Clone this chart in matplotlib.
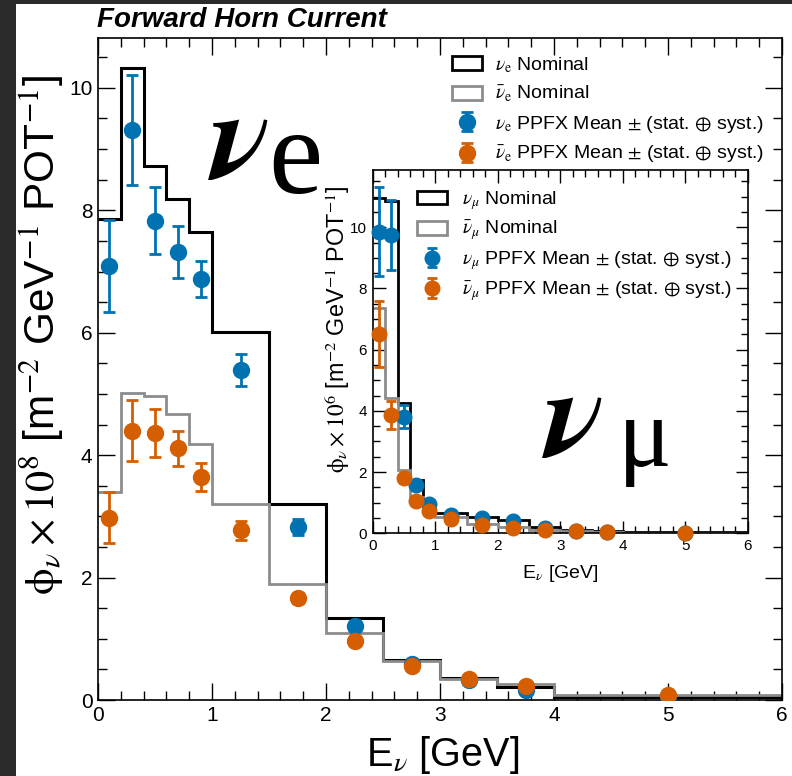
import matplotlib
matplotlib.use("Agg")
import matplotlib.pyplot as plt
from matplotlib.patches import Patch, Rectangle
from matplotlib.ticker import MultipleLocator

plt.rcParams['font.family'] = ['Liberation Sans', 'DejaVu Sans']
plt.rcParams['mathtext.fontset'] = 'stix'

# ---------------- data ----------------
edges = [0, 0.2, 0.4, 0.6, 0.8, 1.0, 1.5, 2.0, 2.5, 3.0, 3.5, 4.0, 6.0]
centers = [0.1, 0.3, 0.5, 0.7, 0.9, 1.25, 1.75, 2.25, 2.75, 3.25, 3.75, 5.0]

nue_nom = [7.86, 10.32, 8.73, 8.19, 7.65, 6.01, 3.20, 1.34, 0.65, 0.36, 0.21, 0.05]
nuebar_nom = [3.39, 5.01, 4.97, 4.68, 4.18, 3.20, 1.90, 1.10, 0.63, 0.35, 0.26, 0.08]
nue_mean = [7.09, 9.31, 7.83, 7.32, 6.88, 5.39, 2.83, 1.21, 0.58, 0.32, 0.16, 0.06]
nue_err = [0.75, 0.90, 0.55, 0.42, 0.30, 0.26, 0.13, 0.06, 0.04, 0.03, 0.02, 0.01]
nuebar_mean = [2.98, 4.40, 4.36, 4.11, 3.64, 2.77, 1.66, 0.96, 0.56, 0.34, 0.23, 0.08]
nuebar_err = [0.41, 0.50, 0.39, 0.29, 0.23, 0.15, 0.08, 0.05, 0.03, 0.02, 0.02, 0.01]

numu_nom = [10.95, 10.87, 4.27, 1.75, 1.00, 0.65, 0.54, 0.45, 0.20, 0.12, 0.07, 0.03]
numubar_nom = [7.35, 4.43, 2.07, 1.20, 0.70, 0.54, 0.30, 0.20, 0.12, 0.07, 0.05, 0.02]
numu_mean = [9.86, 9.75, 3.81, 1.58, 0.97, 0.60, 0.51, 0.40, 0.18, 0.08, 0.05, 0.02]
numu_err = [1.45, 1.15, 0.38, 0.15, 0.08, 0.05, 0.04, 0.03, 0.02, 0.01, 0.01, 0.005]
numubar_mean = [6.51, 3.87, 1.80, 1.07, 0.73, 0.47, 0.27, 0.17, 0.10, 0.07, 0.05, 0.02]
numubar_err = [1.07, 0.45, 0.15, 0.08, 0.05, 0.03, 0.02, 0.01, 0.01, 0.005, 0.005, 0.003]

BLUE = '#0072B2'
ORANGE = '#D55E00'
GRAY = '#8c8c8c'

W, H = 792, 776
fig = plt.figure(figsize=(W / 100, H / 100), dpi=100)
fig.patch.set_facecolor('#2b2b2b')
fig.patches.append(Rectangle((16 / W, 0), 1 - 16 / W, 1 - 4 / H, transform=fig.transFigure,
                             facecolor='white', edgecolor='none', zorder=-10))


def fx(px):
    return px / W


def fy(py):
    return 1 - py / H


def style_axes(ax, major_len, minor_len, labelsize):
    ax.xaxis.set_major_locator(MultipleLocator(1))
    ax.xaxis.set_minor_locator(MultipleLocator(0.2))
    ax.yaxis.set_major_locator(MultipleLocator(2))
    ax.yaxis.set_minor_locator(MultipleLocator(0.5))
    ax.tick_params(which='both', direction='in', top=True, right=True, width=1.0,
                   labelsize=labelsize, colors='black')
    ax.tick_params(which='major', length=major_len, pad=4)
    ax.tick_params(which='minor', length=minor_len)
    for s in ax.spines.values():
        s.set_linewidth(1.2)


# ---------------- main axes ----------------
ax = fig.add_axes([fx(98), fy(700), fx(782) - fx(98), fy(37.7) - fy(700)])
ax.set_xlim(0, 6)
ax.set_ylim(0, 10.82)
style_axes(ax, 12, 6.5, 15)

ax.stairs(nue_nom, edges, color='black', lw=2.2, baseline=None, zorder=2)
ax.stairs(nuebar_nom, edges, color=GRAY, lw=2.0, baseline=None, zorder=2)
eb1 = ax.errorbar(centers, nue_mean, yerr=nue_err, fmt='o', color=BLUE, ms=11.5,
                  elinewidth=2.0, capsize=4.3, capthick=2.0, zorder=3)
eb2 = ax.errorbar(centers, nuebar_mean, yerr=nuebar_err, fmt='o', color=ORANGE, ms=11.5,
                  elinewidth=2.0, capsize=4.3, capthick=2.0, zorder=4)

h1 = Patch(facecolor='white', edgecolor='black', lw=2.0)
h2 = Patch(facecolor='white', edgecolor=GRAY, lw=2.0)
ax.legend([h1, h2, eb1, eb2],
          [r'$\nu_{\mathrm{e}}$ Nominal', r'$\bar{\nu}_{\mathrm{e}}$ Nominal',
           r'$\nu_{\mathrm{e}}$ PPFX Mean $\pm$ (stat. $\oplus$ syst.)',
           r'$\bar{\nu}_{\mathrm{e}}$ PPFX Mean $\pm$ (stat. $\oplus$ syst.)'],
          loc='upper left', bbox_to_anchor=(fx(452), fy(55)), bbox_transform=fig.transFigure,
          frameon=False, fontsize=14, handlelength=1.55, handleheight=0.7,
          handletextpad=0.65, labelspacing=0.48, borderpad=0, borderaxespad=0)

ax.text(fx(211), fy(178), 'ν', transform=fig.transFigure, fontsize=92,
        ha='left', va='baseline', fontweight='bold', fontstyle='italic',
        family='STIXGeneral')
ax.text(fx(268), fy(193), 'e', transform=fig.transFigure, fontsize=88,
        ha='left', va='baseline', family='Liberation Serif')

fig.text(fx(97), fy(27), 'Forward Horn Current', fontsize=20, fontweight='bold',
         fontstyle='italic', ha='left', va='baseline')

fig.text(fx(42), fy(75), r'$\mathrm{ϕ}_{\nu}\times10^{8}$ [m$^{-2}$ GeV$^{-1}$ POT$^{-1}$]',
         rotation=90, ha='center', va='top', fontsize=30.5)
fig.text(fx(443), fy(766), r'E$_{\nu}$ [GeV]', ha='center', va='baseline', fontsize=28.5)

# ---------------- inset ----------------
ins = fig.add_axes([fx(372.7), fy(533.3), fx(748) - fx(372.7), fy(170) - fy(533.3)])
ins.set_facecolor('white')
ins.set_xlim(0, 6)
ins.set_ylim(0, 11.87)
style_axes(ins, 9, 5, 11)

ins.stairs(numu_nom, edges, color='black', lw=2.0, baseline=None, zorder=2)
ins.stairs(numubar_nom, edges, color=GRAY, lw=2.0, baseline=None, zorder=2)
ib1 = ins.errorbar(centers, numu_mean, yerr=numu_err, fmt='o', color=BLUE, ms=10.5,
                   elinewidth=2.0, capsize=3.8, capthick=2.0, zorder=3, clip_on=False)
ib2 = ins.errorbar(centers, numubar_mean, yerr=numubar_err, fmt='o', color=ORANGE, ms=10.5,
                   elinewidth=2.0, capsize=3.8, capthick=2.0, zorder=4, clip_on=False)

ins.legend([h1, h2, ib1, ib2],
           [r'$\nu_{\mu}$ Nominal', r'$\bar{\nu}_{\mu}$ Nominal',
            r'$\nu_{\mu}$ PPFX Mean $\pm$ (stat. $\oplus$ syst.)',
            r'$\bar{\nu}_{\mu}$ PPFX Mean $\pm$ (stat. $\oplus$ syst.)'],
           loc='upper left', bbox_to_anchor=(fx(417), fy(189)), bbox_transform=fig.transFigure,
           frameon=False, fontsize=14, handlelength=1.55, handleheight=0.7,
           handletextpad=0.75, labelspacing=0.36, borderpad=0, borderaxespad=0)

ins.text(fx(545), fy(456), 'ν', transform=fig.transFigure, fontsize=92,
         ha='left', va='baseline', fontweight='bold', fontstyle='italic',
         family='STIXGeneral')
ins.text(fx(618), fy(466), 'μ', transform=fig.transFigure, fontsize=72,
         ha='left', va='baseline', family='Liberation Serif')

fig.text(fx(337), fy(185), r'$\mathrm{ϕ}_{\nu}\times10^{6}$ [m$^{-2}$ GeV$^{-1}$ POT$^{-1}$]',
         rotation=90, ha='center', va='top', fontsize=16.8)
fig.text(fx(560), fy(578), r'E$_{\nu}$ [GeV]', ha='center', va='baseline', fontsize=14)

fig.savefig('out.png', dpi=100, facecolor=fig.get_facecolor())
